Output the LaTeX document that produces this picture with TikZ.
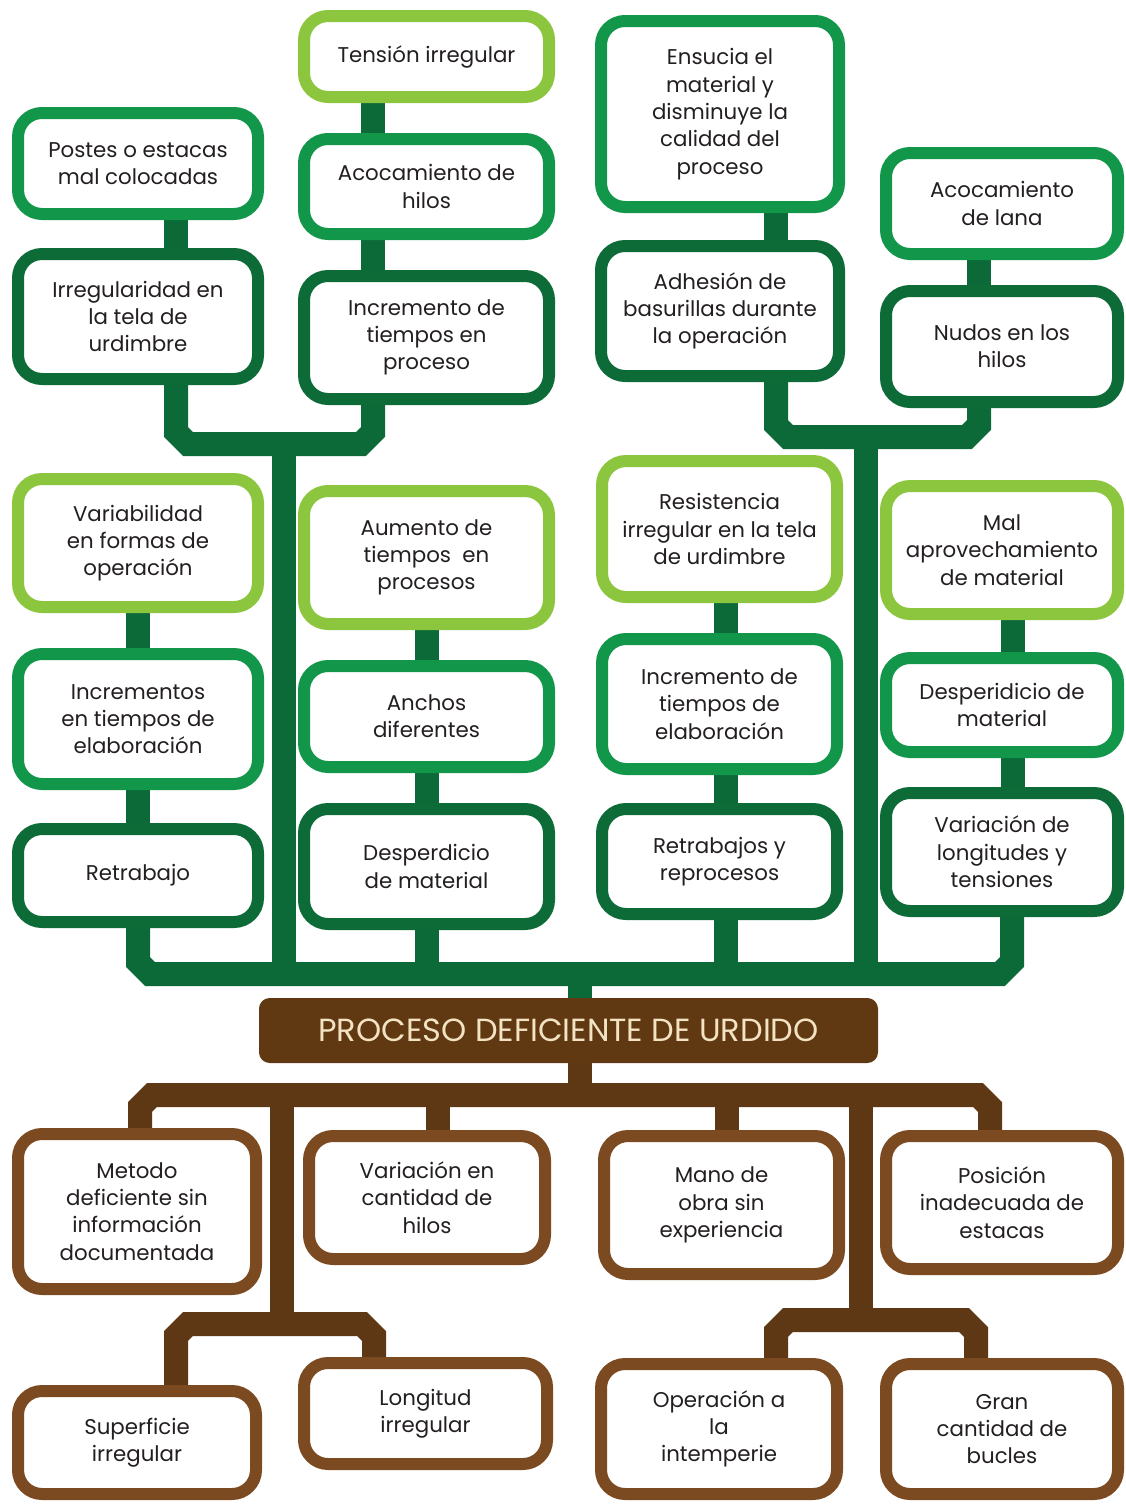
\documentclass[tikz,border=0pt]{standalone}
\usepackage{fontspec}
\setmainfont{Poppins}
\usepackage{tikz}
\usetikzlibrary{backgrounds,positioning}

\definecolor{palegreen}{HTML}{8CC63F}
\definecolor{midgreen}{HTML}{12964A}
\definecolor{deepgreen}{HTML}{0C6B37}
\definecolor{bargreen}{HTML}{0B6A37}
\definecolor{boxbrown}{HTML}{7B4A21}
\definecolor{barbrown}{HTML}{5E3714}
\definecolor{titlebrown}{HTML}{603913}
\definecolor{cream}{HTML}{F3E3C3}
\definecolor{textgray}{HTML}{231F20}

\begin{document}
\begin{tikzpicture}[x=0.75pt,y=-0.75pt]
  \tikzstyle{box}=[rectangle,rounded corners=18pt,line width=9pt,fill=white,align=center,text=textgray,font=\fontsize{16}{20.5}\selectfont,inner sep=2pt]
  \tikzstyle{lightbox}=[box,draw=palegreen]
  \tikzstyle{midbox}=[box,draw=midgreen]
  \tikzstyle{darkbox}=[box,draw=deepgreen]
  \tikzstyle{brownbox}=[box,draw=boxbrown]
  \tikzstyle{effect}=[rectangle,rounded corners=8pt,fill=titlebrown,text=cream,font=\fontsize{24}{26}\selectfont]
  \tikzstyle{gbar}=[line width=18pt,draw=bargreen,line join=miter]
  \tikzstyle{bbar}=[line width=18pt,draw=barbrown,line join=miter]

  \path [use as bounding box] (0,0) rectangle (1126,1506);

  \begin{scope}
    % effects, top row
    \node [midbox,minimum width=180pt,minimum height=75.75pt] (postes) at (138,163.5) {Postes o estacas\\mal colocadas};
    \node [darkbox,minimum width=180pt,minimum height=93.75pt] (irreg) at (138,316.5) {Irregularidad en\\la tela de\\urdimbre};
    \node [lightbox,minimum width=183.75pt,minimum height=60.75pt] (tension) at (426.5,56.5) {Tensión irregular};
    \node [midbox,minimum width=183.75pt,minimum height=71.25pt] (acohilos) at (426.5,186.5) {Acocamiento de\\hilos};
    \node [darkbox,minimum width=183.75pt,minimum height=92.25pt] (incproc) at (426.5,337.5) {Incremento de\\tiempos en\\proceso};
    \node [midbox,minimum width=178.5pt,minimum height=139.5pt] (ensucia) at (720,114) {Ensucia el\\material y\\disminuye la\\calidad del\\proceso};
    \node [darkbox,minimum width=178.5pt,minimum height=97.5pt] (adhesion) at (720,311) {Adhesión de\\basurillas durante\\la operación};
    \node [midbox,minimum width=174pt,minimum height=75.75pt] (acolana) at (1002,203.5) {Acocamiento\\de lana};
    \node [darkbox,minimum width=174pt,minimum height=83.25pt] (nudos) at (1002,346.5) {Nudos en los\\hilos};

    % effects, middle row
    \node [lightbox,minimum width=180pt,minimum height=96pt] (variab) at (138,543) {Variabilidad\\en formas de\\operación};
    \node [midbox,minimum width=180pt,minimum height=97.5pt] (incrementos) at (138,719) {Incrementos\\en tiempos de\\elaboración};
    \node [darkbox,minimum width=180pt,minimum height=69.75pt] (retrabajo) at (138,875.5) {Retrabajo};
    \node [lightbox,minimum width=183.75pt,minimum height=99.75pt] (aumento) at (426.5,557.5) {Aumento de\\tiempos\ \ en\\procesos};
    \node [midbox,minimum width=183.75pt,minimum height=75.75pt] (anchos) at (426.5,716.5) {Anchos\\diferentes};
    \node [darkbox,minimum width=183.75pt,minimum height=86.25pt] (desperdicio) at (426.5,866.5) {Desperdicio\\de material};
    \node [lightbox,minimum width=176.25pt,minimum height=102pt] (resist) at (719.5,529) {Resistencia\\irregular en la tela\\de urdimbre};
    \node [midbox,minimum width=176.25pt,minimum height=97.5pt] (incelab) at (719.5,704) {Incremento de\\tiempos de\\elaboración};
    \node [darkbox,minimum width=176.25pt,minimum height=78.75pt] (retrabajos) at (719.5,861.5) {Retrabajos y\\reprocesos};
    \node [lightbox,minimum width=174pt,minimum height=96pt] (malaprov) at (1002,550) {Mal\\aprovechamiento\\de material};
    \node [midbox,minimum width=174pt,minimum height=70.5pt] (desperidicio) at (1002,705) {Desperidicio de\\material};
    \node [darkbox,minimum width=174pt,minimum height=88.5pt] (varlong) at (1002,852) {Variación de\\longitudes y\\tensiones};

    % problem
    \node [effect,minimum width=464.25pt,minimum height=48.75pt] (problema) at (568.5,1030.5) {PROCESO DEFICIENTE DE URDIDO};

    % causes
    \node [brownbox,minimum width=178.5pt,minimum height=116.25pt] (metodo) at (137,1211.5) {Metodo\\deficiente sin\\información\\documentada};
    \node [brownbox,minimum width=177pt,minimum height=92.25pt] (varcant) at (427,1197.5) {Variación en\\cantidad de\\hilos};
    \node [brownbox,minimum width=176.25pt,minimum height=103.5pt] (manoobra) at (721.5,1205) {Mano de\\obra sin\\experiencia};
    \node [brownbox,minimum width=174pt,minimum height=99.75pt] (posicion) at (1002,1202.5) {Posición\\inadecuada de\\estacas};
    \node [brownbox,minimum width=178.5pt,minimum height=77.25pt] (superficie) at (137,1442.5) {Superficie\\irregular};
    \node [brownbox,minimum width=182.25pt,minimum height=75.75pt] (longitud) at (425.5,1413.5) {Longitud\\irregular};
    \node [brownbox,minimum width=177pt,minimum height=97.5pt] (operacion) at (719,1429) {Operación a\\la\\intemperie};
    \node [brownbox,minimum width=174pt,minimum height=97.5pt] (gran) at (1002,1429) {Gran\\cantidad de\\bucles};

    \coordinate (tlbar) at (284,444);
    \coordinate (trbar) at (866,437);
    \coordinate (gbarmid) at (580,974);
    \coordinate (bbarmid) at (580,1095);
    \coordinate (blbar) at (282,1324);
    \coordinate (brbar) at (861,1320);
  \end{scope}

  \begin{pgfonlayer}{background}
    \fill [white] (0,0) rectangle (1126,1506);
    % green branches
    \draw [gbar] (postes -| 176,0) -- (irreg -| 176,0);
    \draw [gbar] (tension -| 373,0) -- (incproc -| 373,0);
    \draw [gbar] (irreg -| 176,0) -- (176,432) -- (188,444) -- (361,444) -- (373,432) -- (incproc -| 373,0);
    \draw [gbar] (ensucia -| 776,0) -- (adhesion -| 776,0);
    \draw [gbar] (acolana -| 979,0) -- (nudos -| 979,0);
    \draw [gbar] (adhesion -| 776,0) -- (776,425) -- (788,437) -- (967,437) -- (979,425) -- (nudos -| 979,0);
    \draw [gbar] (variab -| 138,0) -- (retrabajo -| 138,0);
    \draw [gbar] (aumento -| 427,0) -- (desperdicio -| 427,0);
    \draw [gbar] (resist -| 726,0) -- (retrabajos -| 726,0);
    \draw [gbar] (malaprov -| 1013,0) -- (varlong -| 1013,0);
    \draw [gbar] (retrabajo -| 138,0) -- (138,962) -- (150,974) -- (1000,974) -- (1012,962) -- (varlong -| 1012,0);
    \draw [gbar] (desperdicio -| 427,0) -- (427,974);
    \draw [gbar] (retrabajos -| 726,0) -- (726,974);
    \fill [bargreen] ([xshift=-9pt]tlbar) rectangle ([xshift=9pt]tlbar |- gbarmid);
    \fill [bargreen] ([xshift=-9pt]trbar) rectangle ([xshift=9pt]trbar |- gbarmid);
    \draw [gbar] (gbarmid) -- (gbarmid |- problema);

    % brown branches
    \draw [bbar] (bbarmid |- problema) -- (bbarmid);
    \draw [bbar] (metodo -| 140,0) -- (140,1107) -- (152,1095) -- (978,1095) -- (990,1107) -- (posicion -| 990,0);
    \draw [bbar] (varcant -| 438,0) -- (438,1095);
    \draw [bbar] (manoobra -| 727,0) -- (727,1095);
    \fill [barbrown] ([xshift=-9pt]blbar |- bbarmid) rectangle ([xshift=9pt]blbar);
    \fill [barbrown] ([xshift=-9pt]brbar |- bbarmid) rectangle ([xshift=9pt]brbar);
    \draw [bbar] (superficie -| 176,0) -- (176,1336) -- (188,1324) -- (362,1324) -- (374,1336) -- (longitud -| 374,0);
    \draw [bbar] (operacion -| 776,0) -- (776,1332) -- (788,1320) -- (964,1320) -- (976,1332) -- (gran -| 976,0);
  \end{pgfonlayer}
\end{tikzpicture}
\end{document}
